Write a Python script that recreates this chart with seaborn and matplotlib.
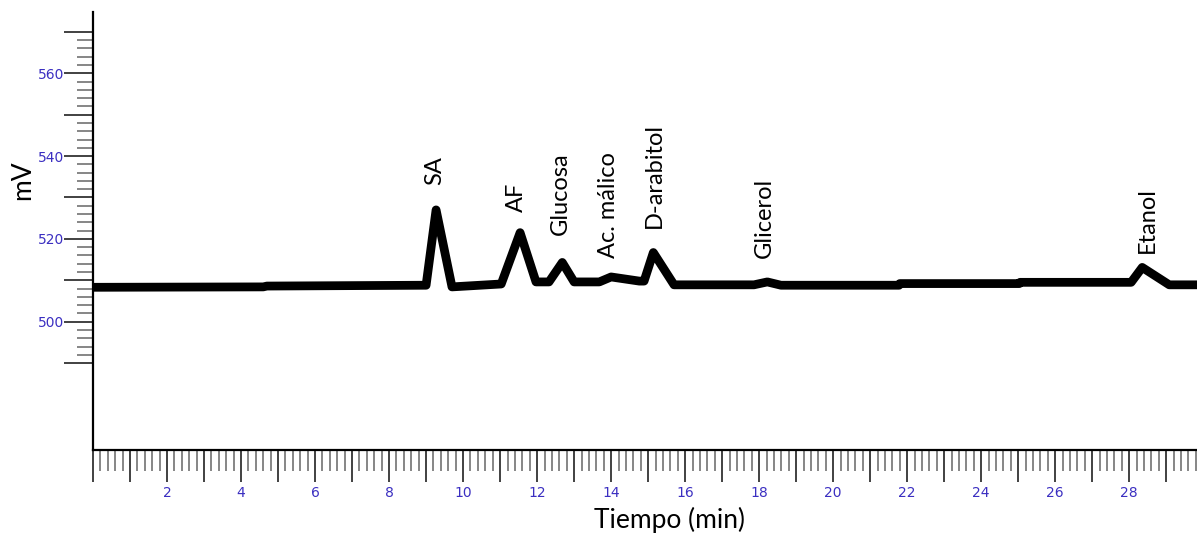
import numpy as np
import pandas as pd
import matplotlib
matplotlib.use("Agg")
import matplotlib.pyplot as plt
import seaborn as sns
from matplotlib.ticker import FixedLocator, MultipleLocator, FuncFormatter

# Chromatogram trace: retention time (min) and detector signal (mV)
time_min = [0.0, 4.6, 4.7, 9.0, 9.27, 9.70, 11.03, 11.54, 11.97, 12.32, 12.68,
            13.0, 13.68, 14.0, 14.76, 14.89, 15.14, 15.70, 17.86, 18.22, 18.59,
            21.78, 21.8, 25.03, 25.05, 28.05, 28.35, 29.08, 29.95]
signal_mv = [508.3, 508.4, 508.6, 508.8, 527.0, 508.4, 509.1, 521.5, 509.6, 509.6, 514.3,
             509.6, 509.6, 510.8, 509.8, 509.8, 516.7, 508.9, 508.9, 509.6, 508.8,
             508.8, 509.2, 509.2, 509.5, 509.5, 513.1, 508.9, 508.9]

# Peak identification labels
peak_names = ["SA", "AF", "Glucosa", "Ac. málico", "D-arabitol", "Glicerol", "Etanol"]
label_time = [9.22, 11.43, 12.63, 13.92, 15.17, 18.14, 28.48]
label_mv = [533.0, 526.5, 520.9, 515.4, 522.6, 515.4, 516.6]

sns.set_theme(style="white")
plt.rcParams["font.family"] = ["Lato", "DejaVu Sans"]

W, H = 1197, 536
fig = plt.figure(figsize=(W / 100, H / 100), dpi=100)
ax = fig.add_axes([93 / W, 1 - 450 / H, 1 - 93 / W, (450 - 12) / H])

df = pd.DataFrame({"Tiempo (min)": time_min, "mV": signal_mv})
sns.lineplot(data=df, x="Tiempo (min)", y="mV", ax=ax, color="black",
             linewidth=6.3, sort=False, estimator=None)
for line in ax.get_lines():
    line.set_solid_joinstyle("round")
    line.set_solid_capstyle("butt")

for name, t, v in zip(peak_names, label_time, label_mv):
    ax.text(t, v, name, rotation=90, ha="center", va="bottom",
            fontsize=17, color="black")

ax.set_xlim(0, 29.83)
ax.set_ylim(469.0, 574.8)

sns.despine(ax=ax)
for s in ("left", "bottom"):
    ax.spines[s].set_color("black")
    ax.spines[s].set_linewidth(1.6)

tick_color = "#3b2fc1"
ax.xaxis.set_major_locator(MultipleLocator(1))
ax.xaxis.set_minor_locator(MultipleLocator(0.2))
ax.xaxis.set_major_formatter(FuncFormatter(
    lambda v, p: f"{int(round(v))}" if round(v) > 0 and round(v) % 2 == 0 else ""))

y_major = [490, 500, 510, 520, 530, 540, 550, 560, 570]
y_minor = [v for v in range(490, 571, 2) if v % 10 != 0]
ax.yaxis.set_major_locator(FixedLocator(y_major))
ax.yaxis.set_minor_locator(FixedLocator(y_minor))
ax.yaxis.set_major_formatter(FuncFormatter(
    lambda v, p: f"{int(round(v))}" if int(round(v)) % 20 == 0 else ""))

ax.tick_params(axis="x", which="major", direction="out", length=23, width=1.3,
               color="#333333", labelcolor=tick_color, labelsize=10, pad=3,
               bottom=True)
ax.tick_params(axis="x", which="minor", direction="out", length=15, width=1.1,
               color="#666666", bottom=True)
ax.tick_params(axis="y", which="major", direction="out", length=21, width=1.3,
               color="#333333", labelcolor=tick_color, labelsize=10, pad=0,
               left=True)
ax.tick_params(axis="y", which="minor", direction="out", length=11.5, width=1.1,
               color="#666666", left=True)
for lab in ax.get_xticklabels() + ax.get_yticklabels():
    lab.set_fontfamily("DejaVu Sans")

ax.set_xlabel("Tiempo (min)", fontsize=19, color="black")
ax.set_ylabel("mV", fontsize=19, color="black")
ax.xaxis.set_label_coords(0.5226, -0.13)
ax.yaxis.set_label_coords(-0.052, 0.616)

fig.savefig("out.png", dpi=100)
